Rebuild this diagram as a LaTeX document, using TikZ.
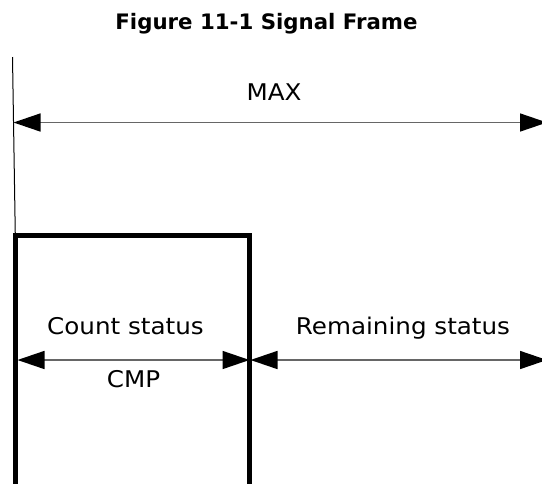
\documentclass[tikz,border=0pt]{standalone}
\usepackage{fontspec}
\setmainfont[FakeStretch=1.07]{DejaVu Sans}
\newfontfamily\titlefont{DejaVu Sans}
\usetikzlibrary{arrows.meta}
\tikzset{
  lbl/.style={anchor=base, inner sep=0pt, font=\fontsize{23}{27}\selectfont},
  ttl/.style={anchor=base, inner sep=0pt, font=\titlefont\bfseries\fontsize{21.3}{25}\selectfont},
  dim/.style={draw=black!60, line width=1.5pt,
    {Triangle[length=27pt,width=18pt,color=black]}-{Triangle[length=27pt,width=18pt,color=black]}},
  frame/.style={draw=black, line width=4.5pt, line join=miter},
  thin/.style={draw=black, line width=1pt}
}
\begin{document}
\begin{tikzpicture}[x=1pt,y=-1pt]
\useasboundingbox[fill=white] (0,0) rectangle (542,483);
% title
\node[ttl] (title) at (266.5,29) {Figure 11-1 Signal Frame};
% thin reference line
\coordinate (tltop) at (12.5,57);
\coordinate (tlbot) at (15.3,235.5);
\draw[thin] (tltop) -- (tlbot);
% frame
\coordinate (bl) at (15.3,490);
\coordinate (tl) at (15.3,235.5);
\coordinate (tr) at (249.5,235.5);
\coordinate (br) at (249.5,490);
\draw[frame] (bl) -- (tl) -- (tr) -- (br);
% MAX
\coordinate (maxL) at (13.5,122.5);
\coordinate (maxR) at (547,122.5);
\draw[dim] (maxL) -- (maxR);
\node[lbl] (max) at (274,100) {MAX};
% lower arrows
\coordinate (cL) at (17.5,360);
\coordinate (cM) at (249.5,360);
\coordinate (cM2) at (250.5,360);
\coordinate (rR) at (547,360);
\draw[dim] (cL) -- (cM);
\draw[dim] (cM2) -- (rR);
\node[lbl] (count) at (125.5,334) {Count status};
\node[lbl] (remain) at (403,334) {Remaining status};
\node[lbl] (cmp) at (133.5,387.5) {CMP};
\end{tikzpicture}
\end{document}
